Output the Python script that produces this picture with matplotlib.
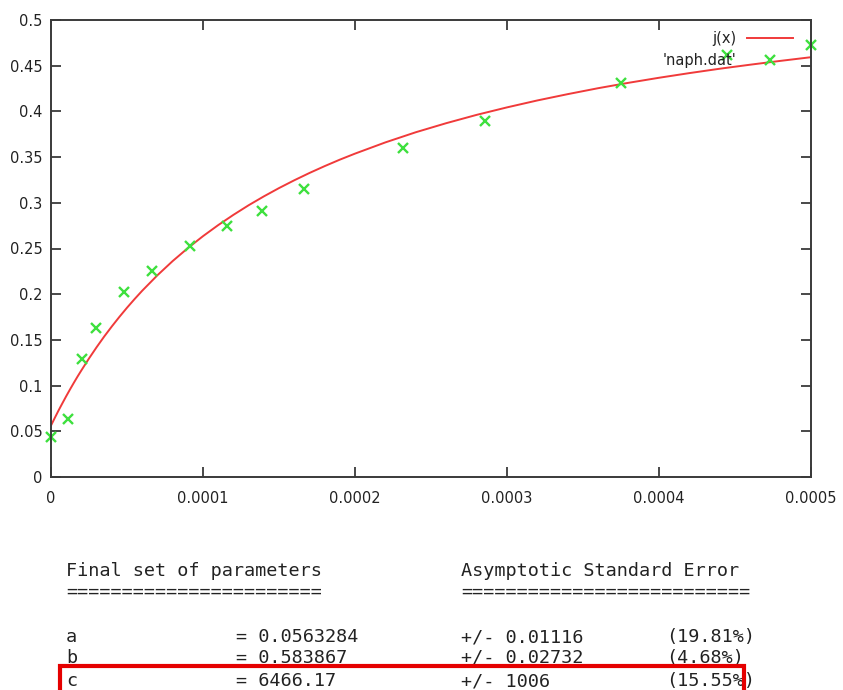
# gnuplot-style fit of naph.dat with fit summary printed underneath
import matplotlib
matplotlib.use('Agg')
import matplotlib.pyplot as plt
from matplotlib.patches import Rectangle

# measured points ('naph.dat')
data_x = [0.0, 0.0000110, 0.0000202, 0.0000294, 0.0000480, 0.0000662, 0.0000914,
          0.0001156, 0.0001386, 0.0001664, 0.0002313, 0.0002857, 0.0003750,
          0.0004450, 0.0005000]
data_y = [0.044, 0.063, 0.129, 0.163, 0.202, 0.225, 0.253,
          0.275, 0.291, 0.315, 0.360, 0.389, 0.431,
          0.462, 0.473]

# fitted curve j(x)
fit_x = [0.0, 0.0000025, 0.000005, 0.0000075, 0.00001, 0.0000125, 0.000015, 0.0000175,
         0.00002, 0.000025, 0.00003, 0.000035, 0.00004, 0.000045, 0.00005, 0.000055,
         0.00006, 0.00007, 0.00008, 0.00009, 0.0001, 0.00011, 0.00012, 0.00013,
         0.00014, 0.00015, 0.00016, 0.00017, 0.00018, 0.00019, 0.0002, 0.00022,
         0.00024, 0.00026, 0.00028, 0.0003, 0.00032, 0.00034, 0.00036, 0.00038,
         0.0004, 0.00042, 0.00044, 0.00046, 0.00048, 0.0005]
fit_y = [0.0563, 0.0647, 0.0729, 0.0807, 0.0884, 0.0958, 0.1030, 0.1100,
         0.1167, 0.1297, 0.1420, 0.1537, 0.1647, 0.1752, 0.1852, 0.1947,
         0.2038, 0.2207, 0.2362, 0.2504, 0.2635, 0.2756, 0.2868, 0.2973,
         0.3070, 0.3161, 0.3246, 0.3326, 0.3401, 0.3472, 0.3538, 0.3661,
         0.3772, 0.3871, 0.3962, 0.4044, 0.4120, 0.4189, 0.4254, 0.4313,
         0.4368, 0.4419, 0.4467, 0.4511, 0.4553, 0.4593]

x_ticks = [0, 0.0001, 0.0002, 0.0003, 0.0004, 0.0005]
x_tick_labels = ['0', '0.0001', '0.0002', '0.0003', '0.0004', '0.0005']
y_ticks = [0, 0.05, 0.1, 0.15, 0.2, 0.25, 0.3, 0.35, 0.4, 0.45, 0.5]
y_tick_labels = ['0', '0.05', '0.1', '0.15', '0.2', '0.25', '0.3', '0.35', '0.4', '0.45', '0.5']

# fit summary
param_names = ['a', 'b', 'c']
param_values = ['0.0563284', '0.583867', '6466.17']
param_errors = ['0.01116', '0.02732', '1006']
param_pcts = ['19.81', '4.68', '15.55']

W, H = 843, 690
fig = plt.figure(figsize=(W / 100, H / 100), dpi=100)
ax = fig.add_axes([51 / W, 1 - 477 / H, 760 / W, 457 / H])

ax.plot(fit_x, fit_y, color='#f03a3a', lw=1.4, label='j(x)')
ax.plot(data_x, data_y, ls='none', marker='x', ms=7.5, mew=1.7,
        color='#3ee03e', label="'naph.dat'", clip_on=False)

ax.set_xlim(0, 0.0005)
ax.set_ylim(0, 0.5)
ax.set_xticks(x_ticks)
ax.set_xticklabels(x_tick_labels)
ax.set_yticks(y_ticks)
ax.set_yticklabels(y_tick_labels)

for sp in ax.spines.values():
    sp.set_color('#3a3a3a')
    sp.set_linewidth(1.4)
ax.tick_params(which='both', direction='in', top=True, right=True,
               length=7, width=1.3, color='#3a3a3a', labelsize=10.5,
               labelcolor='#222222')
ax.tick_params(axis='y', pad=6)
ax.tick_params(axis='x', pad=10)

ax.legend(loc='upper right', bbox_to_anchor=(0.976, 0.9755), markerfirst=False,
          frameon=False, fontsize=10.5, handlelength=3.15, handletextpad=0.69,
          labelspacing=0.49, borderpad=0, borderaxespad=0, numpoints=1,
          labelcolor='#222222')

# fit report (monospace, like the terminal output)
def put(x, y, s):
    fig.text(x / W, 1 - y / H, s, family='DejaVu Sans Mono', fontsize=13.3,
             color='#222222', va='baseline', ha='left')

put(66, 576, 'Final set of parameters')
put(461, 576, 'Asymptotic Standard Error')
put(66, 597, '=' * 23)
put(461, 597, '=' * 26)
row_y = [642, 663, 686]
for name, val, err, pct, y in zip(param_names, param_values, param_errors, param_pcts, row_y):
    put(66, y, name)
    put(236, y, '= ' + val)
    put(461, y, '+/- ' + err)
    put(666, y, '(' + pct + '%)')

# highlight box around the c row
box = Rectangle((60 / W, 1 - 700 / H), 684 / W, 34 / H, transform=fig.transFigure,
                fill=False, edgecolor='#e50000', lw=3, zorder=10)
fig.patches.append(box)

fig.savefig('out.png', dpi=100)
